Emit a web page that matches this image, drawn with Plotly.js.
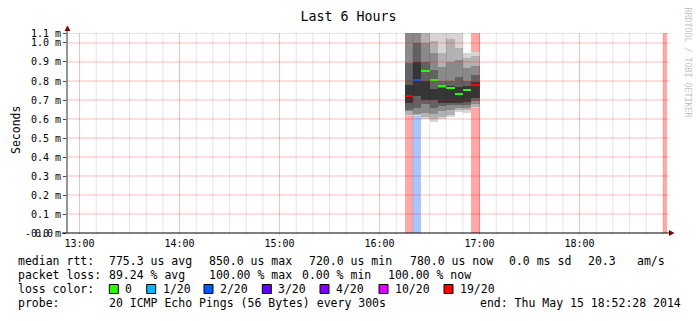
<!DOCTYPE html>
<html><head><meta charset="utf-8">
<script src="https://cdn.plot.ly/plotly-3.0.1.min.js"></script>
<style>html,body{margin:0;padding:0;background:#fff}#chart{width:697px;height:321px}</style>
</head><body><div id="chart"></div>
<script>
// ---------- data ----------
const day = "2014-05-15";
const rangeStart = "12:52:28";
const rangeEnd = "18:52:28";
const stepSeconds = 300;
const totalPings = 20;

const sampleTimes = ["16:15","16:20","16:25","16:30","16:35","16:40","16:45","16:50","16:55"];
const medianRtt  = [0.721, 0.804, 0.851, 0.805, 0.774, 0.763, 0.730, 0.754, 0.781];   // ms
const lostPings  = [19, 2, 0, 0, 0, 0, 0, 0, 19];
const lossOnlyTimes = ["18:50"];
const lossOnlyPings = [20];

// smoke: nested ping ranges per column (outer -> inner), ms
const smoke1Lo = [0.615, 0.615, 0.600, 0.586, 0.598, 0.609, 0.638, 0.633, 0.656];
const smoke1Hi = [1.500, 1.500, 1.500, 1.500, 1.500, 1.500, 1.500, 0.949, 0.954];
const smoke2Lo = [0.619, 0.620, 0.610, 0.600, 0.610, 0.620, 0.645, 0.645, 0.665];
const smoke2Hi = [1.400, 1.400, 1.150, 1.010, 0.946, 1.020, 0.972, 0.920, 0.930];
const smoke3Lo = [0.640, 0.626, 0.633, 0.625, 0.640, 0.645, 0.660, 0.660, 0.680];
const smoke3Hi = [1.200, 1.200, 1.000, 0.946, 0.875, 0.900, 0.911, 0.870, 0.880];
const smoke4Lo = [0.649, 0.660, 0.680, 0.660, 0.668, 0.672, 0.675, 0.675, 0.695];
const smoke4Hi = [0.895, 1.000, 0.900, 0.860, 0.800, 0.800, 0.820, 0.800, 0.830];
const smoke5Lo = [0.684, 0.720, 0.700, 0.700, 0.686, 0.686, 0.686, 0.688, 0.710];
const smoke5Hi = [0.781, 0.900, 0.800, 0.760, 0.765, 0.775, 0.770, 0.775, 0.795];

const yTickVals = [0, 0.1, 0.2, 0.3, 0.4, 0.5, 0.6, 0.7, 0.8, 0.9, 1.0, 1.0526];
const yTickText = ["-0.0 m","0.1 m","0.2 m","0.3 m","0.4 m","0.5 m","0.6 m","0.7 m","0.8 m","0.9 m","1.0 m","1.1 m"];
const hourTicks = ["13:00","14:00","15:00","16:00","17:00","18:00"];

const lossThresholds = [0, 1, 2, 3, 4, 10, 19];
const lossLabels = ["0","1/20","2/20","3/20","4/20","10/20","19/20"];
const lossColors = ["#26ff00","#00b8ff","#0059ff","#5e00ff","#7e00ff","#dd00ff","#ff0000"];

const rttRow  = ["median rtt:", "775.3 us avg", "850.0 us max", "720.0 us min", "780.0 us now", "0.0 ms sd", "20.3", "am/s"];
const lossRow = ["packet loss:", "89.24 % avg", "100.00 % max", "0.00 % min", "100.00 % now"];
const colorRowLabel = "loss color:";
const probeRow = ["probe:", "20 ICMP Echo Pings (56 Bytes) every 300s", "end: Thu May 15 18:52:28 2014"];
const chartTitle = "Last 6 Hours";
const yTitle = "Seconds";
const watermark = "RRDTOOL / TOBI OETIKER";

// ---------- layout positions (pixels) ----------
const W = 697, H = 321, PL = 67, PR = 667, PT = 33, PB = 233;
const rttX = [16, 107, 207, 307, 407.7, 506.7, 585.7, 635];
const lossX = [16, 107.3, 207.3, 300, 385.7];
const swatchX = [109.3, 146.7, 204, 262.3, 320, 379, 444];
const probeX = [16, 107, 478.3];
const rowY = [261, 275, 289, 303];

// ---------- helpers ----------
const toSec = t => { const p = t.split(':').map(Number); return p[0]*3600 + p[1]*60 + (p[2]||0); };
const z2 = n => String(n).padStart(2,'0');
const fmt = s => day + ' ' + z2(Math.floor(s/3600)) + ':' + z2(Math.floor((s%3600)/60)) + ':' + z2(Math.round(s%60));
const center = t => fmt(toSec(t) + stepSeconds/2);
const px2x = p => (p - PL) / (PR - PL);
const px2y = p => (PB - p) / (PB - PT);
const lossColor = n => { let c = lossColors[0]; lossThresholds.forEach((t,i)=>{ if (n >= t) c = lossColors[i]; }); return c; };
const rgba = (hex, a) => `rgba(${parseInt(hex.slice(1,3),16)},${parseInt(hex.slice(3,5),16)},${parseInt(hex.slice(5,7),16)},${a})`;

const mono = "DejaVu Sans Mono";
const widthMs = stepSeconds * 1000;
const traces = [];

// loss bars (full height, translucent)
const lossT = sampleTimes.concat(lossOnlyTimes);
const lossN = lostPings.concat(lossOnlyPings);
const lbX = [], lbC = [], lbB = [], lbY = [];
lossT.forEach((t,i) => { if (lossN[i] > 0) { lbX.push(center(t)); lbC.push(rgba(lossColor(lossN[i]), 0.34)); lbB.push(0); lbY.push(5); } });
traces.push({type:'bar', x: lbX, y: lbY, base: lbB, width: lbX.map(()=>widthMs), marker:{color: lbC, line:{width:0}}, hoverinfo:'skip'});

// smoke
const smokeLevels = [[smoke1Lo, smoke1Hi], [smoke2Lo, smoke2Hi], [smoke3Lo, smoke3Hi], [smoke4Lo, smoke4Hi], [smoke5Lo, smoke5Hi]];
const smokeGray = ["#d6d6d6", "#b2b2b2", "#8a8a8a", "#626262", "#363636"];
const cx = sampleTimes.map(center);
smokeLevels.forEach(([lo, hi], k) => {
  traces.push({type:'bar', x: cx, base: lo, y: hi.map((h,i)=>h - lo[i]), width: cx.map(()=>widthMs),
    marker:{color: smokeGray[k], line:{width:0}}, hoverinfo:'skip'});
});

// median marks
const mh = 0.011;
traces.push({type:'bar', x: cx, base: medianRtt.map(m=>m - mh/2), y: medianRtt.map(()=>mh), width: cx.map(()=>widthMs),
  marker:{color: lostPings.map(lossColor), line:{width:0}}, hoverinfo:'skip'});

// ---------- shapes: grid above traces, axes, arrows, swatches ----------
const shapes = [];
yTickVals.forEach(v => { if (v > 0) shapes.push({type:'line', layer:'above', xref:'paper', yref:'y', x0:0, x1:1.004, y0:v, y1:v, line:{color:'rgba(255,0,0,0.27)', width:1}}); });
const s0 = toSec("13:00"), s1 = toSec(rangeEnd);
for (let s = s0; s <= s1; s += 600) {
  const isHour = (s % 3600) === 0;
  shapes.push({type:'line', layer:'above', xref:'x', yref:'paper', x0: fmt(s), x1: fmt(s), y0: -2/200, y1: 1,
    line:{color: isHour ? 'rgba(255,0,0,0.27)' : 'rgba(0,0,0,0.11)', width:1}});
}
// axis lines
shapes.push({type:'line', layer:'above', xref:'paper', yref:'paper', x0: px2x(62), x1: px2x(670), y0: 0, y1: 0, line:{color:'#000', width:1}});
shapes.push({type:'line', layer:'above', xref:'paper', yref:'paper', x0: 0, x1: 0, y0: 0, y1: px2y(29), line:{color:'#2c2c2c', width:1}});
// arrows
const tri = (pts) => 'M' + pts.map(p => `${px2x(p[0])},${px2y(p[1])}`).join(' L') + ' Z';
shapes.push({type:'path', layer:'above', xref:'paper', yref:'paper', path: tri([[64.5,31],[70.5,31],[67.5,25.5]]), fillcolor:'#7f0000', line:{width:0}});
shapes.push({type:'path', layer:'above', xref:'paper', yref:'paper', path: tri([[669,230],[669,236],[674.5,233]]), fillcolor:'#7f0000', line:{width:0}});
// loss colour swatches
swatchX.forEach((x,i) => {
  shapes.push({type:'rect', layer:'above', xref:'paper', yref:'paper', x0: px2x(x), x1: px2x(x+9), y0: px2y(293.5), y1: px2y(284.5),
    fillcolor: lossColors[i], line:{color:'#000', width:1}});
});

// ---------- annotations ----------
const ann = [];
const txt = (text, x, y, extra) => ann.push(Object.assign({text, xref:'paper', yref:'paper', x: px2x(x), y: px2y(y), xanchor:'left', yanchor:'middle', showarrow:false, font:{family: mono, size: 11.5, color:'#000'}}, extra||{}));
rttRow.forEach((t,i) => txt(t, rttX[i], rowY[0]));
lossRow.forEach((t,i) => txt(t, lossX[i], rowY[1]));
txt(colorRowLabel, 16, rowY[2]);
lossLabels.forEach((t,i) => txt(t, swatchX[i] + 14, rowY[2]));
probeRow.forEach((t,i) => txt(t, probeX[i], rowY[3]));
// y title
ann.push({text: yTitle, textangle: -90, xref:'paper', yref:'paper', x: px2x(16), y: px2y(130), xanchor:'center', yanchor:'middle', showarrow:false, font:{family: mono, size: 11.5, color:'#000'}});
// watermark
ann.push({text: watermark, textangle: 90, xref:'paper', yref:'paper', x: px2x(687.5), y: px2y(62), xanchor:'center', yanchor:'middle', showarrow:false, font:{family: mono, size: 8.3, color:'#c4c4c4'}});
// overlapping zero label artifact
ann.push({text: "0.0", xref:'paper', yref:'paper', x: px2x(54.5), y: 0, xanchor:'right', yanchor:'middle', showarrow:false, font:{family: mono, size: 10, color:'#000'}});

const layout = {
  width: W, height: H,
  margin: {l: PL, r: W - PR, t: PT, b: H - PB, pad: 0},
  paper_bgcolor: '#fff', plot_bgcolor: '#fff',
  showlegend: false, barmode: 'overlay', bargap: 0,
  title: {text: chartTitle, font: {family: mono, size: 13.3, color: '#000'}, x: 0.5, xanchor: 'center', xref: 'container', yref: 'container', y: 1 - 16/H, yanchor: 'middle'},
  xaxis: {type: 'date', range: [fmt(toSec(rangeStart)), fmt(toSec(rangeEnd))], showgrid: false, zeroline: false, showline: false,
    tickmode: 'array', tickvals: hourTicks.map(h => fmt(toSec(h))), ticktext: hourTicks, ticks: '', ticklabelstandoff: 3,
    tickfont: {family: mono, size: 10, color: '#000'}, fixedrange: true},
  yaxis: {range: [0, 1.0526], showgrid: false, zeroline: false, showline: false,
    tickmode: 'array', tickvals: yTickVals, ticktext: yTickText, ticks: 'outside', ticklen: 3, tickcolor: '#444', tickwidth: 1,
    tickfont: {family: mono, size: 10, color: '#000'}, fixedrange: true},
  shapes, annotations: ann
};
Plotly.newPlot('chart', traces, layout, {staticPlot: true, displayModeBar: false});
</script></body></html>
